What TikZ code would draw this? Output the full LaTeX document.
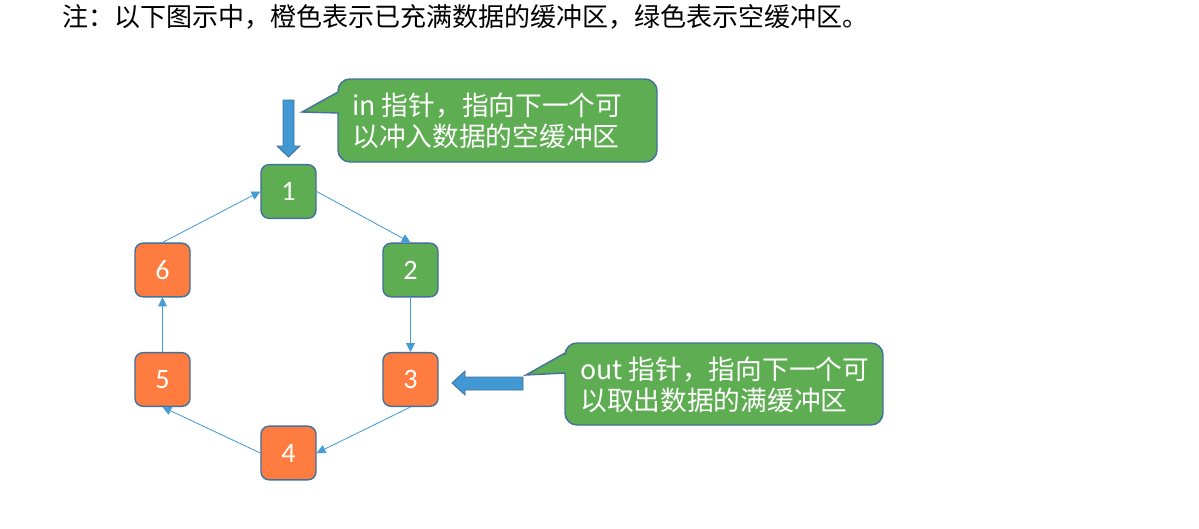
\documentclass[tikz,border=0pt]{standalone}
\usepackage{fontspec}
\setmainfont{Carlito}
\newfontfamily\cjk{Noto Sans CJK SC}
\usetikzlibrary{arrows.meta}
\definecolor{bufgreen}{RGB}{94,173,82}
\definecolor{buforange}{RGB}{255,124,64}
\definecolor{bufline}{RGB}{65,113,156}
\definecolor{linkblue}{RGB}{68,156,210}
\definecolor{ptrblue}{RGB}{66,152,210}
\tikzset{
  buf/.style={draw=bufline, line width=1pt, rounded corners=2mm,
    minimum width=1.375cm, minimum height=1.34cm, text=white,
    font=\fontsize{20pt}{20pt}\selectfont},
  fullbuf/.style={buf, fill=buforange},
  emptybuf/.style={buf, fill=bufgreen},
  link/.style={draw=linkblue, line width=0.6pt, -{Triangle[length=2.2mm,width=2.2mm]}},
  bubble/.style={fill=bufgreen, draw=bufline, line width=1pt},
  ptr/.style={fill=ptrblue, draw=bufline, line width=0.6pt},
  msg/.style={text=white, align=left, anchor=north west, inner sep=0pt,
    font=\cjk\fontsize{19pt}{21.5pt}\selectfont}
}
\begin{document}
\begin{tikzpicture}[x=0.025cm,y=-0.025cm]
\useasboundingbox (0,0) rectangle (1199,528);
\node[anchor=west, inner sep=0pt, font=\cjk\fontsize{18.5pt}{20pt}\selectfont] (note) at (62,17)
  {注：以下图示中，橙色表示已充满数据的缓冲区，绿色表示空缓冲区。};
% the six buffers
\node[emptybuf] (b1) at (288.5,191.5) {1};
\node[emptybuf] (b2) at (410.5,270) {2};
\node[fullbuf] (b3) at (410.5,379.5) {3};
\node[fullbuf] (b4) at (288.5,453) {4};
\node[fullbuf] (b5) at (162.5,379.5) {5};
\node[fullbuf] (b6) at (162.5,270) {6};
\draw[link] (b1.east) -- (b2.north);
\draw[link] (b2.south) -- (b3.north);
\draw[link] (b3.south) -- (b4.east);
\draw[link] (b4.west) -- (b5.south);
\draw[link] (b5.north) -- (b6.south);
\draw[link] (b6.north) -- (b1.west);
% in pointer
\filldraw[ptr] (283,100) -- (294,100) -- (294,146) -- (300,146) -- (288.5,157)
  -- (277,146) -- (283,146) -- cycle;
\filldraw[bubble] (302,112) -- (338,92) [rounded corners=3mm] -- (338,79) -- (657,79)
  -- (657,162) -- (338,162) [sharp corners] -- (338,113) -- cycle;
\node[msg] (inmsg) at (352,93) {in 指针，指向下一个可\\以冲入数据的空缓冲区};
% out pointer
\filldraw[ptr] (523,377) -- (465,377) -- (465,371) -- (452,383) -- (465,395)
  -- (465,390) -- (523,390) -- cycle;
\filldraw[bubble] (526,375) -- (565,353) [rounded corners=3mm] -- (565,343) -- (883,343)
  -- (883,425) -- (565,425) [sharp corners] -- (565,373) -- cycle;
\node[msg] (outmsg) at (580,357) {out 指针，指向下一个可\\以取出数据的满缓冲区};
\end{tikzpicture}
\end{document}
